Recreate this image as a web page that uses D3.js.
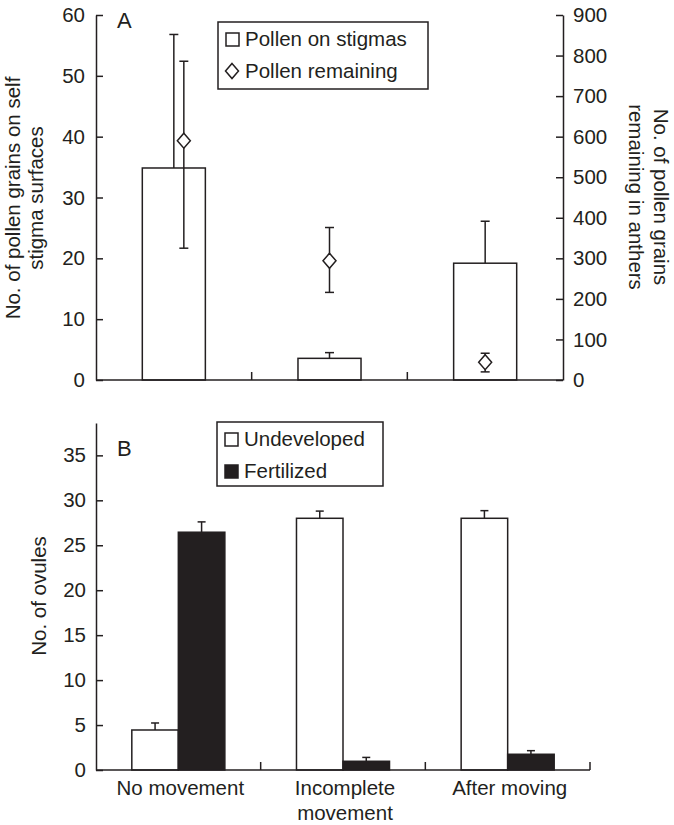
<!DOCTYPE html>
<html><head><meta charset="utf-8">
<script src="https://cdn.jsdelivr.net/npm/d3@7"></script>
<style>
body{margin:0;background:#fff}
text{font-family:"Liberation Sans",Arial,Helvetica,sans-serif;fill:#231f20}
</style>
</head><body>
<svg id="chart" width="674" height="825"></svg>
<script>
// ---------------- data ----------------
const categories = ["No movement", "Incomplete movement", "After moving"];
const categoryLines = [["No movement"], ["Incomplete", "movement"], ["After moving"]];

// Panel A
const seriesA = ["Pollen on stigmas", "Pollen remaining"];
const pollenOnStigmas = [34.85, 3.56, 19.2];
const pollenOnStigmasUpper = [56.8, 4.5, 26.1];
const pollenRemaining = [590, 294, 44];
const pollenRemainingLow = [325, 216, 20];
const pollenRemainingHigh = [786, 376, 66];
const leftTicksA = [0, 10, 20, 30, 40, 50, 60];
const rightTicksA = [0, 100, 200, 300, 400, 500, 600, 700, 800, 900];

// Panel B
const seriesB = ["Undeveloped", "Fertilized"];
const undeveloped = [4.45, 28.0, 28.0];
const undevelopedUpper = [5.23, 28.8, 28.85];
const fertilized = [26.45, 0.97, 1.75];
const fertilizedUpper = [27.6, 1.4, 2.15];
const ticksB = [0, 5, 10, 15, 20, 25, 30, 35];

// ---------------- styles ----------------
const INK = "#231f20";
const SW = 1.5;
const FS = 20.5;
const svg = d3.select("#chart");

function styleAxis(g) {
  g.selectAll("path.domain").attr("stroke", INK).attr("stroke-width", SW);
  g.selectAll(".tick line").attr("stroke", INK).attr("stroke-width", SW);
  g.selectAll(".tick text").attr("fill", INK).style("font-size", FS + "px")
    .style("font-family", '"Liberation Sans",Arial,Helvetica,sans-serif');
}
function cap(g, x, y, w) {
  g.append("line").attr("x1", x - w / 2).attr("x2", x + w / 2).attr("y1", y).attr("y2", y)
    .attr("stroke", INK).attr("stroke-width", SW);
}
const diamondPath = "M0,-7.5L6.5,0L0,7.5L-6.5,0Z";

// ================= Panel A =================
const xA = d3.scaleBand().domain(categories).range([96, 563]);
const yL = d3.scaleLinear().domain([0, 60]).range([380, 15]);
const yR = d3.scaleLinear().domain([0, 900]).range([380, 15]);
const gA = svg.append("g");

// bars
const bwA = xA.bandwidth() * 0.405;
categories.forEach((c, i) => {
  const cx = xA(c) + xA.bandwidth() / 2;
  gA.append("line").attr("x1", cx).attr("x2", cx)
    .attr("y1", yL(pollenOnStigmas[i])).attr("y2", yL(pollenOnStigmasUpper[i]))
    .attr("stroke", INK).attr("stroke-width", SW);
  cap(gA, cx, yL(pollenOnStigmasUpper[i]), 9);
  gA.append("rect").attr("x", cx - bwA / 2).attr("width", bwA)
    .attr("y", yL(pollenOnStigmas[i])).attr("height", yL(0) - yL(pollenOnStigmas[i]))
    .attr("fill", "#fff").attr("stroke", INK).attr("stroke-width", SW);
});
// diamonds (dodge sideways when their error bar overlaps the bar's whisker)
categories.forEach((c, i) => {
  let cx = xA(c) + xA.bandwidth() / 2;
  const lo = yR(pollenRemainingLow[i]), hi = yR(pollenRemainingHigh[i]);
  const bLo = yL(pollenOnStigmas[i]), bHi = yL(pollenOnStigmasUpper[i]);
  if (hi < bLo && lo > bHi) cx += 10;
  gA.append("line").attr("x1", cx).attr("x2", cx).attr("y1", lo).attr("y2", hi)
    .attr("stroke", INK).attr("stroke-width", SW);
  cap(gA, cx, lo, 9); cap(gA, cx, hi, 9);
  gA.append("path").attr("d", diamondPath)
    .attr("transform", `translate(${cx},${yR(pollenRemaining[i])})`)
    .attr("fill", "#fff").attr("stroke", INK).attr("stroke-width", SW);
});

// axes
gA.append("g").attr("transform", "translate(96,0)")
  .call(d3.axisLeft(yL).tickValues(leftTicksA).tickSizeInner(-7).tickSizeOuter(0).tickPadding(11))
  .call(styleAxis);
gA.append("g").attr("transform", "translate(563,0)")
  .call(d3.axisRight(yR).tickValues(rightTicksA).tickSizeInner(-7).tickSizeOuter(0).tickPadding(10))
  .call(styleAxis);
gA.append("line").attr("x1", xA.range()[0]).attr("x2", xA.range()[1]).attr("y1", yL(0)).attr("y2", yL(0))
  .attr("stroke", INK).attr("stroke-width", SW);
categories.slice(0, -1).forEach(c => {
  const x = xA(c) + xA.bandwidth();
  gA.append("line").attr("x1", x).attr("x2", x).attr("y1", yL(0)).attr("y2", yL(0) - 8)
    .attr("stroke", INK).attr("stroke-width", SW);
});

// titles
gA.append("text").attr("x", 117).attr("y", 28).style("font-size", "22px").text("A");
const tL = gA.append("text").attr("transform", "translate(20,198) rotate(-90)")
  .attr("text-anchor", "middle").style("font-size", FS + "px");
tL.append("tspan").attr("x", 0).attr("y", 0).text("No. of pollen grains on self");
tL.append("tspan").attr("x", 0).attr("y", 23).text("stigma surfaces");
const tR = gA.append("text").attr("transform", "translate(654,197) rotate(90)")
  .attr("text-anchor", "middle").style("font-size", FS + "px");
tR.append("tspan").attr("x", 0).attr("y", 0).text("No. of pollen grains");
tR.append("tspan").attr("x", 0).attr("y", 25).text("remaining in anthers");

// legend A
const legA = gA.append("g");
legA.append("rect").attr("x", 218).attr("y", 22).attr("width", 210).attr("height", 67)
  .attr("fill", "#fff").attr("stroke", INK).attr("stroke-width", SW);
legA.append("rect").attr("x", 226).attr("y", 33).attr("width", 13).attr("height", 13)
  .attr("fill", "#fff").attr("stroke", INK).attr("stroke-width", SW);
legA.append("path").attr("d", diamondPath).attr("transform", "translate(232,71)")
  .attr("fill", "#fff").attr("stroke", INK).attr("stroke-width", SW);
seriesA.forEach((s, i) => {
  legA.append("text").attr("x", 245).attr("y", 46 + i * 32).style("font-size", FS + "px").text(s);
});

// ================= Panel B =================
const xB = d3.scaleBand().domain(categories).range([96, 590]);
const yB = d3.scaleLinear().domain([0, 38.6]).range([770, 423]);
const gB = svg.append("g");
const groupW = xB.bandwidth() * 0.565;
const sub = d3.scaleBand().domain(seriesB).range([0, groupW]);
const valsB = { "Undeveloped": undeveloped, "Fertilized": fertilized };
const upB = { "Undeveloped": undevelopedUpper, "Fertilized": fertilizedUpper };
const fillB = { "Undeveloped": "#fff", "Fertilized": INK };

categories.forEach((c, i) => {
  const x0 = xB(c) + (xB.bandwidth() - groupW) / 2;
  seriesB.forEach(s => {
    const x = x0 + sub(s), w = sub.bandwidth(), cx = x + w / 2;
    const v = valsB[s][i], u = upB[s][i];
    gB.append("line").attr("x1", cx).attr("x2", cx).attr("y1", yB(v)).attr("y2", yB(u))
      .attr("stroke", INK).attr("stroke-width", SW);
    cap(gB, cx, yB(u), 8);
    gB.append("rect").attr("x", x).attr("width", w).attr("y", yB(v)).attr("height", yB(0) - yB(v))
      .attr("fill", fillB[s]).attr("stroke", INK).attr("stroke-width", SW);
  });
});

gB.append("g").attr("transform", "translate(96,0)")
  .call(d3.axisLeft(yB).tickValues(ticksB).tickSizeInner(-7).tickSizeOuter(0).tickPadding(10))
  .call(styleAxis);
gB.append("line").attr("x1", xB.range()[0]).attr("x2", xB.range()[1]).attr("y1", yB(0)).attr("y2", yB(0))
  .attr("stroke", INK).attr("stroke-width", SW);
categories.forEach((c, i) => {
  const x = xB(c) + xB.bandwidth();
  gB.append("line").attr("x1", x).attr("x2", x).attr("y1", yB(0)).attr("y2", yB(0) - 8)
    .attr("stroke", INK).attr("stroke-width", SW);
  const cx = xB(c) + xB.bandwidth() / 2 + 2;
  const t = gB.append("text").attr("text-anchor", "middle").style("font-size", FS + "px");
  categoryLines[i].forEach((ln, j) => {
    t.append("tspan").attr("x", cx).attr("y", 795 + j * 25).text(ln);
  });
});

gB.append("text").attr("x", 117).attr("y", 456).style("font-size", "22px").text("B");
gB.append("text").attr("transform", "translate(46,596) rotate(-90)")
  .attr("text-anchor", "middle").style("font-size", FS + "px").text("No. of ovules");

// legend B
const legB = gB.append("g");
legB.append("rect").attr("x", 217).attr("y", 422).attr("width", 166).attr("height", 64)
  .attr("fill", "#fff").attr("stroke", INK).attr("stroke-width", SW);
seriesB.forEach((s, i) => {
  legB.append("rect").attr("x", 225).attr("y", 433 + i * 32).attr("width", 13).attr("height", 13)
    .attr("fill", fillB[s]).attr("stroke", INK).attr("stroke-width", SW);
  legB.append("text").attr("x", 244).attr("y", 446 + i * 32).style("font-size", FS + "px").text(s);
});
</script>
</body></html>
